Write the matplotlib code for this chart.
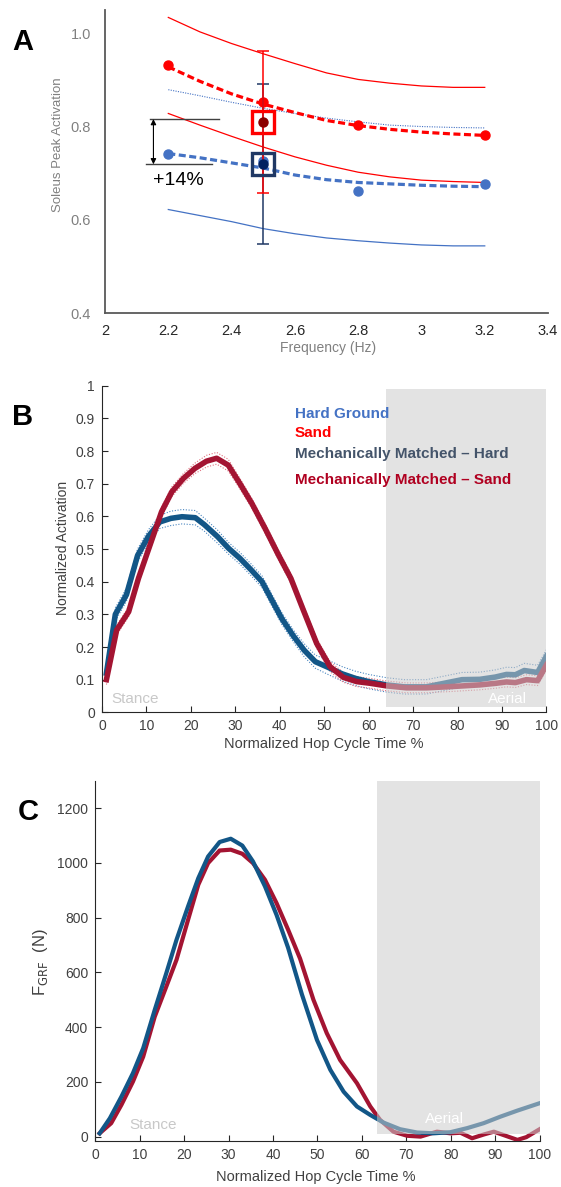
import numpy as np
import matplotlib
matplotlib.use('Agg')
from matplotlib import pyplot as plt
from matplotlib.patches import Rectangle
from matplotlib.ticker import FuncFormatter

plt.rcParams['font.family'] = ['Liberation Sans', 'DejaVu Sans']

# ---- Panel A: soleus peak activation vs hop frequency ----
freq_pts = [2.2, 2.5, 2.8, 3.2]
sand_pts = [0.933, 0.852, 0.803, 0.781]
hard_pts = [0.742, 0.725, 0.661, 0.676]

fit_x = [2.2, 2.3, 2.4, 2.5, 2.6, 2.7, 2.8, 2.9, 3.0, 3.1, 3.2]
sand_fit = [0.928, 0.897, 0.870, 0.848, 0.830, 0.813, 0.802, 0.794, 0.788, 0.784, 0.781]
hard_fit = [0.742, 0.733, 0.722, 0.711, 0.696, 0.686, 0.680, 0.677, 0.674, 0.672, 0.671]
sand_upper = [1.034, 1.003, 0.978, 0.956, 0.935, 0.915, 0.901, 0.893, 0.887, 0.884, 0.884]
sand_lower = [0.828, 0.803, 0.779, 0.756, 0.735, 0.717, 0.702, 0.692, 0.685, 0.682, 0.680]
hard_upper = [0.879, 0.866, 0.852, 0.839, 0.828, 0.818, 0.810, 0.803, 0.800, 0.798, 0.797]
hard_lower = [0.622, 0.609, 0.596, 0.581, 0.570, 0.561, 0.555, 0.550, 0.546, 0.544, 0.544]

mm_freq = 2.5
mm_sand, mm_sand_sd = 0.81, 0.152
mm_hard, mm_hard_sd = 0.72, 0.171
gain_label = '+14%'

# ---- Panel B: normalized activation over hop cycle ----
b_hard_x = [1, 3, 5.5, 8, 10.5, 13, 15.5, 18, 21, 23, 26, 28.5, 31, 33.5, 36, 38, 40.5,
            43, 45.5, 48, 51, 54, 57, 60, 64, 68, 73, 77, 81, 85, 88.5, 91, 93, 95, 98, 100]
b_hard_y = [0.12, 0.30, 0.36, 0.48, 0.54, 0.583, 0.594, 0.599, 0.596, 0.575, 0.538, 0.502,
            0.472, 0.437, 0.40, 0.349, 0.286, 0.235, 0.19, 0.155, 0.137, 0.118, 0.104, 0.094,
            0.084, 0.078, 0.078, 0.089, 0.10, 0.101, 0.108, 0.116, 0.115, 0.128, 0.122, 0.172]
b_hard_se = [0.015, 0.02, 0.02, 0.02, 0.02, 0.02, 0.022, 0.022, 0.022, 0.02, 0.02, 0.018,
             0.018, 0.018, 0.018, 0.018, 0.018, 0.018, 0.02, 0.02, 0.022, 0.022, 0.022, 0.022,
             0.022, 0.022, 0.022, 0.022, 0.022, 0.022, 0.022, 0.022, 0.022, 0.022, 0.022, 0.02]

b_sand_x = [1, 3.3, 6, 8.2, 10.8, 13.4, 15.7, 18.3, 20.9, 23.5, 25.8, 28.4, 31, 33.7, 36.7,
            39.7, 42.5, 45.3, 48.3, 51.3, 54.3, 57.3, 60.3, 64, 68.5, 73, 77.5, 81.3, 85,
            88.7, 91, 93, 95.5, 98, 100]
b_sand_y = [0.10, 0.252, 0.308, 0.41, 0.512, 0.614, 0.675, 0.716, 0.747, 0.769, 0.778, 0.757,
            0.701, 0.64, 0.563, 0.482, 0.41, 0.313, 0.211, 0.14, 0.107, 0.094, 0.089, 0.081,
            0.075, 0.075, 0.078, 0.081, 0.084, 0.089, 0.093, 0.091, 0.10, 0.097, 0.145]
b_sand_se = [0.015, 0.015, 0.015, 0.015, 0.015, 0.015, 0.015, 0.015, 0.016, 0.018, 0.018,
             0.018, 0.016, 0.015, 0.015, 0.015, 0.015, 0.015, 0.015, 0.015, 0.015, 0.015,
             0.015, 0.015, 0.015, 0.015, 0.015, 0.015, 0.015, 0.015, 0.015, 0.015, 0.015,
             0.015, 0.015]

legend_labels = ['Hard Ground', 'Sand', 'Mechanically Matched \u2013 Hard',
                 'Mechanically Matched \u2013 Sand']
legend_colors = ['#4472c4', '#ff0000', '#44546a', '#b00020']

# ---- Panel C: ground reaction force over hop cycle ----
c_hard_x = [1, 3.3, 5.9, 8.5, 10.8, 13.4, 16, 18.3, 20.9, 23.2, 25.4, 28, 30.5, 33.1, 35.5,
            38.2, 40.8, 43.4, 46.5, 49.9, 52.9, 55.9, 58.9, 61.9, 64.9, 68.6, 72.4, 76.1,
            79.9, 83.7, 87.4, 91.2, 95, 100]
c_hard_y = [12, 67, 146, 232, 323, 463, 597, 719, 841, 944, 1023, 1076, 1088, 1063, 1005,
            914, 810, 690, 520, 353, 244, 164, 110, 79, 51, 27, 15, 12, 16, 31, 49, 73, 95, 122]
c_sand_x = [1, 3.6, 5.9, 8.5, 10.8, 13.4, 16, 18.3, 20.9, 23.2, 25.4, 28, 30.5, 33.1, 35.5,
            38.2, 40.8, 43.4, 46.1, 49.1, 52.1, 55.1, 58.9, 61.9, 64.1, 67.1, 70.2, 73.2,
            76.9, 79.9, 82.2, 84.8, 87.5, 89.7, 92, 95, 97, 100]
c_sand_y = [12, 49, 116, 201, 292, 438, 548, 646, 792, 920, 999, 1045, 1048, 1033, 999, 938,
            853, 756, 650, 500, 378, 280, 195, 110, 61, 18, 3, 0, 18, 12, 14, -6, 8, 18, 5,
            -12, -2, 27]

aerial_start_b = 64
aerial_start_c = 63.5

blue = '#125687'
red = '#a31432'
shade = '#cccccc'

fig = plt.figure(figsize=(5.61, 11.87), dpi=100)

# ================= A =================
axA = fig.add_axes([0.1872, 0.7363, 0.7897, 0.2553])
axA.plot(fit_x, sand_upper, color='#ff0000', lw=0.9)
axA.plot(fit_x, sand_lower, color='#ff0000', lw=0.9)
axA.plot(fit_x, hard_upper, color='#4472c4', lw=0.8, ls=(0, (1, 1.2)))
axA.plot(fit_x, hard_lower, color='#4472c4', lw=0.9)
axA.plot(fit_x, sand_fit, color='#ff0000', lw=2.3, ls=(0, (2.2, 1.1)))
axA.plot(fit_x, hard_fit, color='#4472c4', lw=2.3, ls=(0, (2.2, 1.1)))
axA.plot(freq_pts, sand_pts, 'o', color='#ff0000', ms=6.5)
axA.plot(freq_pts, hard_pts, 'o', color='#4472c4', ms=6.5)
axA.errorbar([mm_freq], [mm_hard], yerr=[mm_hard_sd], color='#1f3864', lw=1.1,
             capsize=4, capthick=1.1, fmt='none')
axA.errorbar([mm_freq], [mm_sand], yerr=[mm_sand_sd], color='#ff0000', lw=1.1,
             capsize=4, capthick=1.1, fmt='none')
axA.plot([mm_freq], [mm_sand], 's', ms=16, mfc='none', mec='#ff0000', mew=2.4)
axA.plot([mm_freq], [mm_sand], 'o', ms=6.5, color='#8b0000')
axA.plot([mm_freq], [mm_hard], 's', ms=16, mfc='none', mec='#203864', mew=2.4)
axA.plot([mm_freq], [mm_hard], 'o', ms=6.5, color='#002060')

# +14% bracket
axA.plot([2.142, 2.361], [mm_sand + 0.006, mm_sand + 0.006], color='#404040', lw=1)
axA.plot([2.130, 2.337], [mm_hard - 0.001, mm_hard - 0.001], color='#404040', lw=1)
axA.annotate('', xy=(2.153, mm_hard - 0.001), xytext=(2.153, mm_sand + 0.006),
             arrowprops=dict(arrowstyle='<|-|>', color='black', lw=0.8,
                             mutation_scale=8, shrinkA=0, shrinkB=0))
axA.text(2.232, 0.685, gain_label, ha='center', va='center', fontsize=14, color='black')

axA.set_xlim(2, 3.4)
axA.set_ylim(0.4, 1.05)
axA.set_xticks(np.arange(2, 3.41, 0.2))
axA.set_xticklabels(['2', '2.2', '2.4', '2.6', '2.8', '3', '3.2', '3.4'])
axA.set_yticks([0.4, 0.6, 0.8, 1.0])
axA.set_yticklabels(['0.4', '0.6', '0.8', '1.0'])
axA.tick_params(axis='both', length=0, labelsize=10.5)
axA.tick_params(axis='x', pad=8, labelcolor='#262626')
axA.tick_params(axis='y', pad=10, labelcolor='#808080')
for s in ['top', 'right']:
    axA.spines[s].set_visible(False)
for s in ['left', 'bottom']:
    axA.spines[s].set_color('#595959')
    axA.spines[s].set_linewidth(1.3)
fig.text(58.4 / 561, 1 - 145 / 1187, 'Soleus Peak Activation', rotation=90,
         ha='center', va='center', fontsize=9.5, color='#808080')
fig.text(328 / 561, 1 - 348 / 1187, 'Frequency (Hz)', ha='center', va='center',
         fontsize=10, color='#808080')


def matlab_axes(ax):
    for s in ['top', 'right']:
        ax.spines[s].set_visible(False)
    for s in ['left', 'bottom']:
        ax.spines[s].set_color('#262626')
        ax.spines[s].set_linewidth(0.8)
    ax.tick_params(direction='in', length=4, width=0.8, color='#262626',
                   labelsize=10, labelcolor='#404040', pad=5)


# ================= B =================
axB = fig.add_axes([0.1818, 0.3999, 0.7923, 0.2751])
for xs, ys, se, band in [(b_hard_x, b_hard_y, b_hard_se, '#4a86c0'),
                         (b_sand_x, b_sand_y, b_sand_se, '#e0707f')]:
    ys = np.array(ys)
    se = np.array(se)
    axB.plot(xs, ys + se, color=band, lw=0.8, ls=(0, (1, 1.5)), zorder=2)
    axB.plot(xs, ys - se, color=band, lw=0.8, ls=(0, (1, 1.5)), zorder=2)
axB.plot(b_hard_x, b_hard_y, color=blue, lw=4, solid_joinstyle='round', zorder=2.1)
axB.plot(b_sand_x, b_sand_y, color=red, lw=4, solid_joinstyle='round', zorder=2.2)
axB.add_patch(Rectangle((aerial_start_b, 0.015), 100 - aerial_start_b, 0.975,
                        color=shade, alpha=0.55, lw=0, zorder=3))
axB.text(7.4, 0.041, 'Stance', ha='center', va='center', fontsize=11, color='#c8c8c8', zorder=4)
axB.text(91.3, 0.041, 'Aerial', ha='center', va='center', fontsize=11, color='white', zorder=4)
for lab, col, yv in zip(legend_labels, legend_colors, [0.915, 0.856, 0.79, 0.712]):
    axB.text(43.4, yv, lab, color=col, fontsize=11, fontweight='bold',
             ha='left', va='center', zorder=5)
axB.set_xlim(0, 100)
axB.set_ylim(0, 1)
axB.set_xticks(np.arange(0, 101, 10))
axB.set_yticks(np.arange(0, 1.01, 0.1))
axB.yaxis.set_major_formatter(FuncFormatter(lambda v, p: f'{v:.1f}'.rstrip('0').rstrip('.') if v else '0'))
matlab_axes(axB)
fig.text(62.7 / 561, 1 - 548 / 1187, 'Normalized Activation', rotation=90,
         ha='center', va='center', fontsize=10, color='#404040')
fig.text(324 / 561, 1 - 744 / 1187, 'Normalized Hop Cycle Time %', ha='center',
         va='center', fontsize=10.5, color='#404040')

# ================= C =================
axC = fig.add_axes([0.1697, 0.0390, 0.7922, 0.3033])
axC.plot(c_hard_x, c_hard_y, color=blue, lw=3, zorder=2.2)
axC.plot(c_sand_x, c_sand_y, color=red, lw=3, zorder=2.1)
axC.add_patch(Rectangle((aerial_start_c, 10), 100 - aerial_start_c, 1290,
                        color=shade, alpha=0.55, lw=0, zorder=3))
axC.text(13, 43, 'Stance', ha='center', va='center', fontsize=11, color='#c8c8c8', zorder=4)
axC.text(78.7, 63, 'Aerial', ha='center', va='center', fontsize=11, color='white', zorder=4)
axC.set_xlim(0, 100)
axC.set_ylim(-15, 1300)
axC.set_xticks(np.arange(0, 101, 10))
axC.set_yticks(np.arange(0, 1201, 200))
matlab_axes(axC)
fig.text(41 / 561, 1 - 961.7 / 1187, r'F$_{\mathrm{GRF}}$  (N)', rotation=90,
         ha='center', va='center', fontsize=12, color='#404040')
fig.text(316 / 561, 1 - 1176.7 / 1187, 'Normalized Hop Cycle Time %', ha='center',
         va='center', fontsize=10.5, color='#404040')

# panel letters
for letter, px, py in [('A', 23, 42.5), ('B', 23, 416.7), ('C', 28, 811.7)]:
    fig.text(px / 561, 1 - py / 1187, letter, ha='center', va='center',
             fontsize=21, fontweight='bold', color='black')

fig.savefig('out.png', dpi=100)
